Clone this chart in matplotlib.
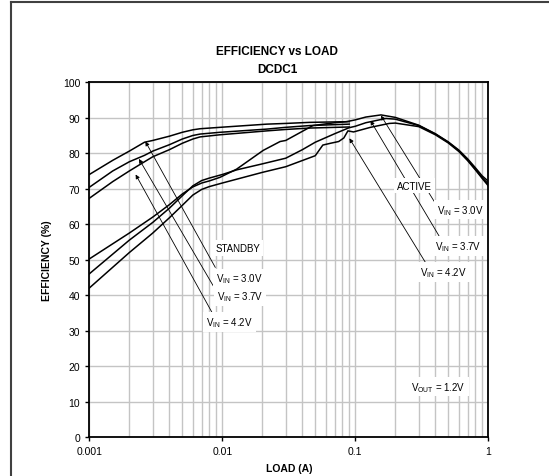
import numpy as np
import matplotlib
matplotlib.use('Agg')
import matplotlib.pyplot as plt
from matplotlib.lines import Line2D
from matplotlib.ticker import FixedLocator, FixedFormatter, LogLocator

plt.rcParams['font.family'] = ['Liberation Sans', 'DejaVu Sans']
plt.rcParams['mathtext.fontset'] = 'custom'
plt.rcParams['mathtext.rm'] = 'Liberation Sans'

# standby (PFM) curves, load in A, efficiency in %
load_standby = [0.001, 0.0015, 0.002, 0.0026, 0.003, 0.004, 0.005, 0.006, 0.0068, 0.0096, 0.0216, 0.03, 0.0455, 0.09]
eff_standby_30 = [74.0, 78.0, 80.6, 83.1, 83.6, 84.8, 85.9, 86.6, 86.9, 87.3, 88.2, 88.4, 88.7, 88.9]
eff_standby_37 = [70.4, 75.0, 77.6, 79.4, 80.6, 82.4, 84.0, 85.0, 85.4, 85.9, 86.8, 87.3, 87.8, 88.2]
eff_standby_42 = [67.3, 72.0, 75.0, 77.6, 79.0, 81.0, 82.8, 84.0, 84.6, 85.2, 86.3, 86.7, 87.1, 87.4]

# active (PWM) curves
load_30 = [0.001, 0.002, 0.003, 0.004, 0.005, 0.006, 0.007, 0.008, 0.0096, 0.0128, 0.0203, 0.0272, 0.03,
           0.048, 0.07, 0.086, 0.1, 0.12, 0.156, 0.2, 0.3, 0.4, 0.5, 0.6, 0.7, 0.8, 0.9, 1.0]
eff_active_30 = [50.2, 57.5, 62.0, 65.5, 68.5, 70.5, 71.6, 72.2, 73.2, 75.5, 80.8, 83.3, 83.6,
                 87.8, 88.6, 88.9, 89.4, 90.2, 90.8, 90.1, 87.9, 85.5, 83.2, 80.9, 78.4, 75.9, 73.6, 72.1]

load_37 = [0.001, 0.002, 0.003, 0.004, 0.005, 0.006, 0.007, 0.008, 0.01, 0.0128, 0.02, 0.03, 0.04, 0.05,
           0.07, 0.09, 0.1, 0.12, 0.17, 0.2, 0.3, 0.4, 0.5, 0.6, 0.7, 0.8, 0.9, 1.0]
eff_active_37 = [46.0, 55.5, 60.5, 64.5, 68.0, 70.8, 72.3, 73.0, 74.0, 75.3, 77.0, 78.6, 81.0, 83.1,
                 85.5, 87.2, 87.6, 88.6, 89.8, 89.6, 87.8, 85.4, 83.1, 80.7, 78.1, 75.5, 73.1, 71.4]

load_42 = [0.001, 0.002, 0.003, 0.004, 0.005, 0.006, 0.007, 0.008, 0.01, 0.02, 0.03, 0.05, 0.057,
           0.065, 0.075, 0.082, 0.088, 0.097, 0.13, 0.18, 0.2, 0.3, 0.4, 0.5, 0.6, 0.7, 0.8, 0.9, 1.0]
eff_active_42 = [42.0, 52.0, 57.5, 61.8, 65.3, 68.2, 69.8, 70.6, 71.6, 74.6, 76.2, 79.3, 82.3,
                 82.8, 83.3, 84.3, 86.3, 86.0, 87.3, 88.4, 88.5, 87.5, 85.2, 82.9, 80.5, 77.9, 75.3, 72.9, 70.8]

x_ticks = [0.001, 0.01, 0.1, 1]
x_tick_labels = ['0.001', '0.01', '0.1', '1']
y_ticks = list(range(0, 101, 10))

fig = plt.figure(figsize=(5.49, 4.77), dpi=100)
ax = fig.add_axes([0.1627, 0.0818, 0.7267, 0.7436])

for lx, ly in [(load_standby, eff_standby_30), (load_standby, eff_standby_37), (load_standby, eff_standby_42),
               (load_30, eff_active_30), (load_37, eff_active_37), (load_42, eff_active_42)]:
    ax.plot(lx, ly, color='black', lw=1.1, zorder=3, solid_joinstyle='round')

ax.set_xscale('log')
ax.set_xlim(0.001, 1)
ax.set_ylim(0, 100)
ax.xaxis.set_major_locator(FixedLocator(x_ticks))
ax.xaxis.set_major_formatter(FixedFormatter(x_tick_labels))
ax.xaxis.set_minor_locator(LogLocator(base=10, subs=np.arange(2, 10)))
ax.yaxis.set_major_locator(FixedLocator(y_ticks))
ax.tick_params(which='major', direction='out', length=3, labelsize=7.5, width=1)
ax.tick_params(which='minor', length=0)
ax.grid(which='both', axis='x', color='#c4c4c4', lw=1)
ax.grid(which='major', axis='y', color='#c4c4c4', lw=1)
ax.set_axisbelow(True)
for s in ax.spines.values():
    s.set_color('black')
    s.set_linewidth(1.3)

ax.set_xlabel('LOAD (A)', fontsize=7.5, fontweight='bold', labelpad=5)
ax.set_ylabel('EFFICIENCY (%)', fontsize=7.5, fontweight='bold', labelpad=8)
fig.text(0.505, 0.89, 'EFFICIENCY vs LOAD', ha='center', va='center', fontsize=8.5, fontweight='bold')
fig.text(0.505, 0.853, 'DCDC1', ha='center', va='center', fontsize=8.5, fontweight='bold')

arrow = dict(arrowstyle='-|>', color='black', lw=0.6, mutation_scale=6, shrinkA=0, shrinkB=0)
box = dict(boxstyle='square,pad=0.3', fc='white', ec='none')

# standby annotations (tail, tip)
ax.annotate('', xy=(0.00264, 83.3), xytext=(0.00886, 47.8), arrowprops=arrow, zorder=4)
ax.annotate('', xy=(0.00236, 78.4), xytext=(0.00912, 40.8), arrowprops=arrow, zorder=4)
ax.annotate('', xy=(0.00223, 74.0), xytext=(0.00834, 35.2), arrowprops=arrow, zorder=4)
ax.text(0.0131, 53.2, 'STANDBY', fontsize=7, ha='center', va='center', bbox=box, zorder=5)
ax.text(0.01336, 44.7, r'V$_{\mathrm{IN}}$ = 3.0V', fontsize=7, ha='center', va='center', bbox=box, zorder=5)
ax.text(0.01355, 39.7, r'V$_{\mathrm{IN}}$ = 3.7V', fontsize=7, ha='center', va='center', bbox=box, zorder=5)
ax.text(0.0113, 32.5, r'V$_{\mathrm{IN}}$ = 4.2V', fontsize=7, ha='center', va='center', bbox=box, zorder=5)

# active annotations
ax.annotate('', xy=(0.156, 90.6), xytext=(0.417, 64.8), arrowprops=arrow, zorder=4)
ax.annotate('', xy=(0.13, 89.2), xytext=(0.437, 56.0), arrowprops=arrow, zorder=4)
ax.annotate('', xy=(0.0903, 84.2), xytext=(0.337, 49.2), arrowprops=arrow, zorder=4)
ax.text(0.277, 70.9, 'ACTIVE', fontsize=7, ha='center', va='center', bbox=box, zorder=5)
ax.text(0.617, 64.1, r'V$_{\mathrm{IN}}$ = 3.0V', fontsize=7, ha='center', va='center', bbox=box, zorder=5)
ax.text(0.592, 53.8, r'V$_{\mathrm{IN}}$ = 3.7V', fontsize=7, ha='center', va='center', bbox=box, zorder=5)
ax.text(0.461, 46.6, r'V$_{\mathrm{IN}}$ = 4.2V', fontsize=7, ha='center', va='center', bbox=box, zorder=5)
ax.text(0.422, 14.2, r'V$_{\mathrm{OUT}}$ = 1.2V', fontsize=7, ha='center', va='center', bbox=box, zorder=5)

# page frame (left and top edges)
fig.add_artist(Line2D([0.02, 0.02], [0.0, 0.994], color='#404040', lw=1.5))
fig.add_artist(Line2D([0.02, 1.0], [0.994, 0.994], color='#404040', lw=1.5))

fig.savefig('out.png', dpi=100)
